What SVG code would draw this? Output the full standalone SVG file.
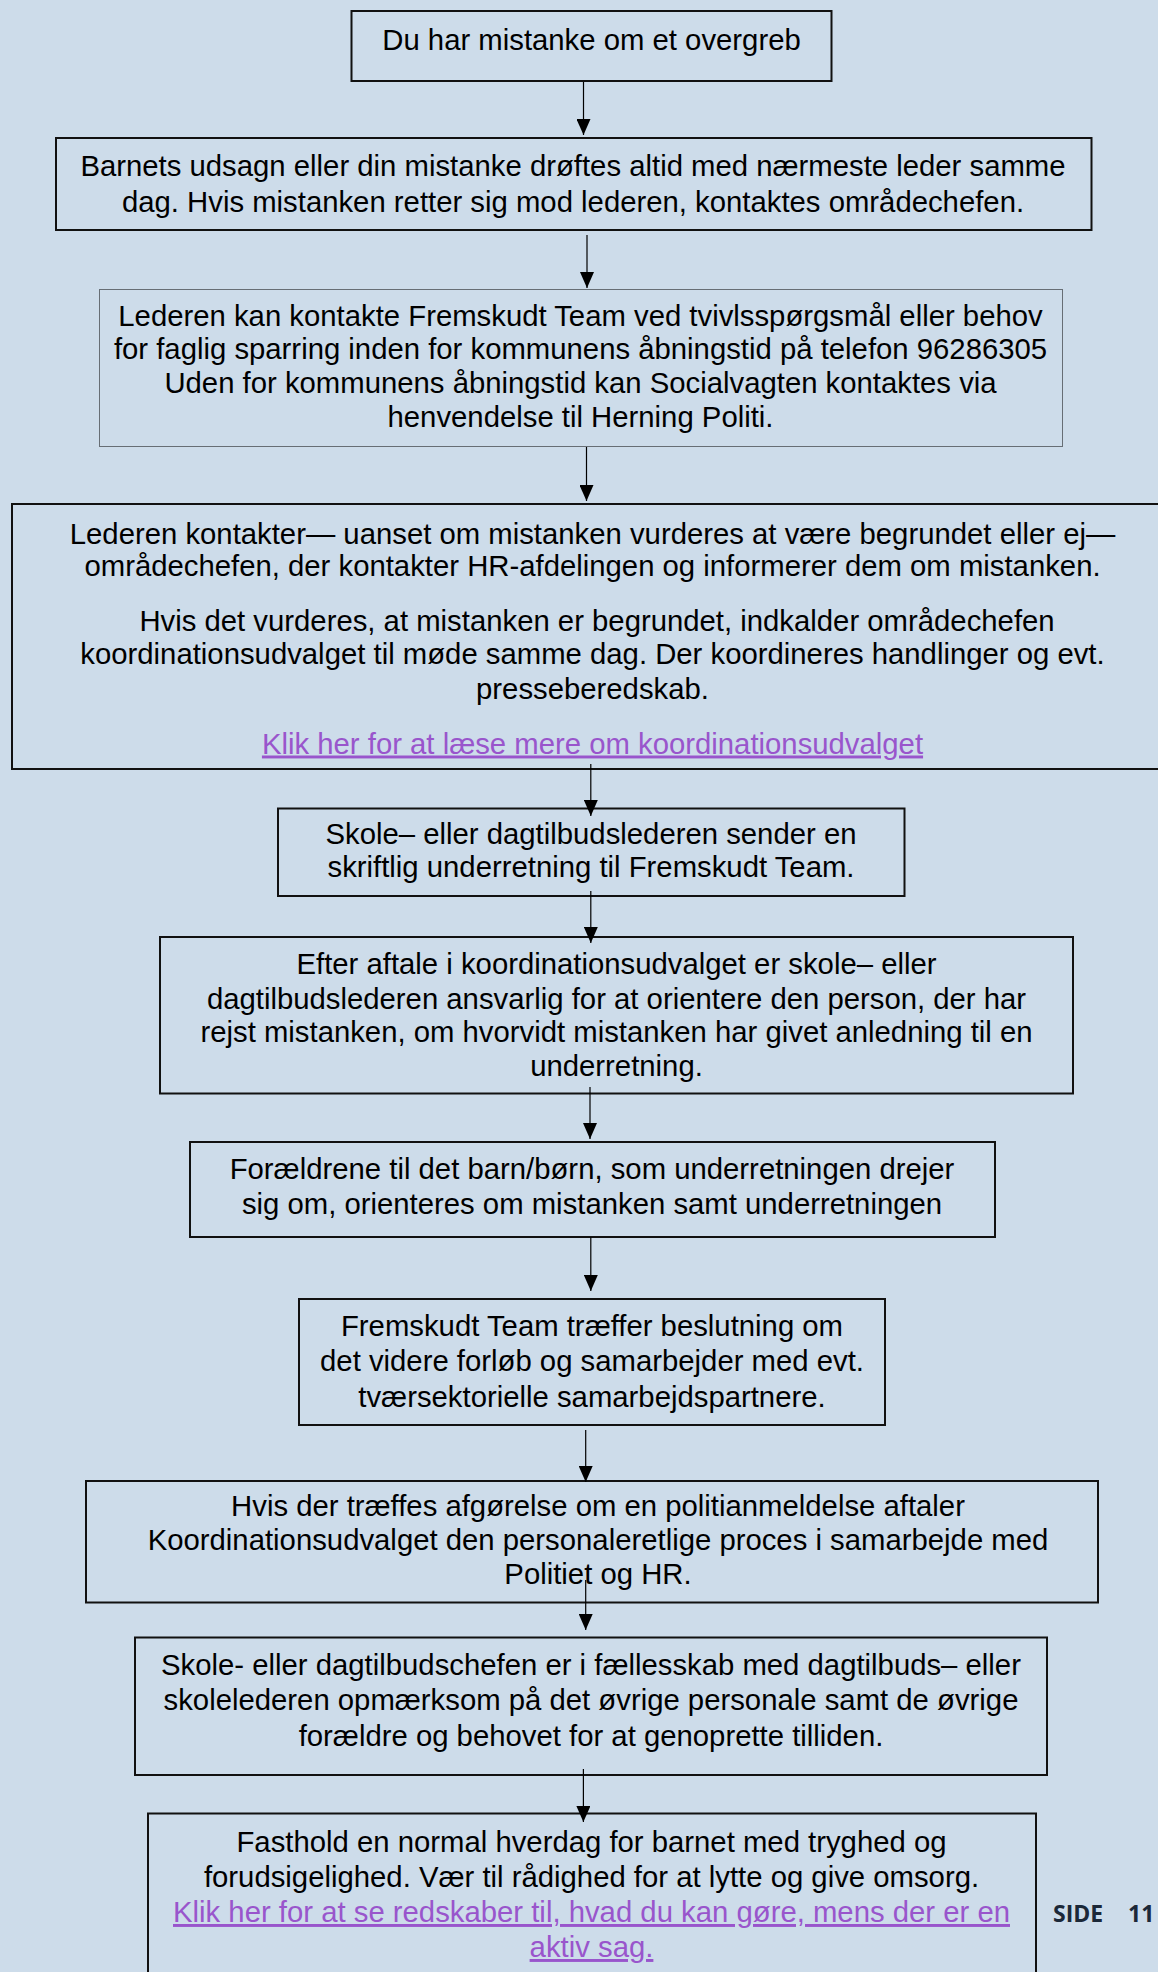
<svg xmlns="http://www.w3.org/2000/svg" width="1158" height="1972" viewBox="0 0 1158 1972">
<defs>
<style>
.bg{fill:#cddcea}
.box{fill:none;stroke:#111;stroke-width:2}
.dot{fill:none;stroke:#000;stroke-width:1;stroke-dasharray:1 1}
.t{font-family:"Liberation Sans",Arial,sans-serif;font-size:29.3px;fill:#000;text-anchor:middle}
.lk{fill:#9955cc;text-decoration:underline}
.c{stroke:#000;stroke-width:1.2;fill:none}
.side{font-family:"Open Sans","DejaVu Sans",sans-serif;font-weight:700;font-size:23px;fill:#1b2838}
</style>
<marker id="ah" markerWidth="16" markerHeight="14" refX="16" refY="7" orient="auto" markerUnits="userSpaceOnUse" viewBox="0 0 16 14">
<path d="M0,0 L16,7 L0,14 Z" fill="#000"/>
</marker>
</defs>
<rect class="bg" x="0" y="0" width="1158" height="1972"/>

<g id="n1">
<rect class="box" x="351.5" y="11" width="480" height="70"/>
<text class="t" x="591.5" y="50">Du har mistanke om et overgreb</text>
</g>
<g id="n2">
<rect class="box" x="56" y="138" width="1035.5" height="92"/>
<text class="t" x="573" y="175.5">Barnets udsagn eller din mistanke drøftes altid med nærmeste leder samme</text>
<text class="t" x="573" y="211.5">dag. Hvis mistanken retter sig mod lederen, kontaktes områdechefen.</text>
</g>
<g id="n3">
<rect class="dot" x="99.5" y="289.5" width="963" height="157"/>
<text class="t" x="580.5" y="325.5">Lederen kan kontakte Fremskudt Team ved tvivlsspørgsmål eller behov</text>
<text class="t" x="580.5" y="358.5">for faglig sparring inden for kommunens åbningstid på telefon 96286305</text>
<text class="t" x="580.5" y="392.5">Uden for kommunens åbningstid kan Socialvagten kontaktes via</text>
<text class="t" x="580.5" y="426.5">henvendelse til Herning Politi.</text>
</g>
<g id="n4">
<rect class="box" x="12" y="504" width="1163" height="265"/>
<text class="t" x="592.5" y="543.5">Lederen kontakter— uanset om mistanken vurderes at være begrundet eller ej—</text>
<text class="t" x="592.5" y="576">områdechefen, der kontakter HR-afdelingen og informerer dem om mistanken.</text>
<text class="t" x="597" y="630.5">Hvis det vurderes, at mistanken er begrundet, indkalder områdechefen</text>
<text class="t" x="592.5" y="664">koordinationsudvalget til møde samme dag. Der koordineres handlinger og evt.</text>
<text class="t" x="592.5" y="698.5">presseberedskab.</text>
<text class="t lk" x="592.5" y="753.5">Klik her for at læse mere om koordinationsudvalget</text>
</g>
<g id="n5">
<rect class="box" x="278" y="808.5" width="626.5" height="87.5"/>
<text class="t" x="591" y="843.5">Skole– eller dagtilbudslederen sender en</text>
<text class="t" x="591" y="877">skriftlig underretning til Fremskudt Team.</text>
</g>
<g id="n6">
<rect class="box" x="160" y="937" width="913" height="156.5"/>
<text class="t" x="616.5" y="973.5">Efter aftale i koordinationsudvalget er skole– eller</text>
<text class="t" x="616.5" y="1008.5">dagtilbudslederen ansvarlig for at orientere den person, der har</text>
<text class="t" x="616.5" y="1042">rejst mistanken, om hvorvidt mistanken har givet anledning til en</text>
<text class="t" x="616.5" y="1075.5">underretning.</text>
</g>
<g id="n7">
<rect class="box" x="190" y="1142" width="805" height="95"/>
<text class="t" x="592" y="1178.5">Forældrene til det barn/børn, som underretningen drejer</text>
<text class="t" x="592" y="1213.5">sig om, orienteres om mistanken samt underretningen</text>
</g>
<g id="n8">
<rect class="box" x="299" y="1299" width="586" height="126"/>
<text class="t" x="592" y="1336">Fremskudt Team træffer beslutning om</text>
<text class="t" x="592" y="1371">det videre forløb og samarbejder med evt.</text>
<text class="t" x="592" y="1407">tværsektorielle samarbejdspartnere.</text>
</g>
<g id="n9">
<rect class="box" x="86" y="1481" width="1012" height="121.5"/>
<text class="t" x="598" y="1515.5">Hvis der træffes afgørelse om en politianmeldelse aftaler</text>
<text class="t" x="598" y="1550">Koordinationsudvalget den personaleretlige proces i samarbejde med</text>
<text class="t" x="598" y="1584">Politiet og HR.</text>
</g>
<g id="n10">
<rect class="box" x="135" y="1637.5" width="912" height="137.5"/>
<text class="t" x="591" y="1675">Skole- eller dagtilbudschefen er i fællesskab med dagtilbuds– eller</text>
<text class="t" x="591" y="1710">skolelederen opmærksom på det øvrige personale samt de øvrige</text>
<text class="t" x="591" y="1746">forældre og behovet for at genoprette tilliden.</text>
</g>
<g id="n11">
<rect class="box" x="148" y="1813.5" width="888" height="180"/>
<text class="t" x="591.5" y="1852">Fasthold en normal hverdag for barnet med tryghed og</text>
<text class="t" x="591.5" y="1887">forudsigelighed. Vær til rådighed for at lytte og give omsorg.</text>
<text class="t lk" x="591.5" y="1922">Klik her for at se redskaber til, hvad du kan gøre, mens der er en</text>
<text class="t lk" x="591.5" y="1957">aktiv sag.</text>
</g>

<g id="connectors">
<line class="c" x1="583.5" y1="82" x2="583.5" y2="135" marker-end="url(#ah)"/>
<line class="c" x1="587" y1="235" x2="587" y2="288" marker-end="url(#ah)"/>
<line class="c" x1="586.5" y1="447" x2="586.5" y2="501" marker-end="url(#ah)"/>
<line class="c" x1="590.8" y1="764" x2="590.8" y2="816" marker-end="url(#ah)"/>
<line class="c" x1="590.8" y1="891" x2="590.8" y2="943" marker-end="url(#ah)"/>
<line class="c" x1="590" y1="1087" x2="590" y2="1139" marker-end="url(#ah)"/>
<line class="c" x1="590.8" y1="1237" x2="590.8" y2="1291" marker-end="url(#ah)"/>
<line class="c" x1="585.7" y1="1430" x2="585.7" y2="1482" marker-end="url(#ah)"/>
<line class="c" x1="585.7" y1="1580" x2="585.7" y2="1630" marker-end="url(#ah)"/>
<line class="c" x1="583.4" y1="1769" x2="583.4" y2="1822" marker-end="url(#ah)"/>
</g>

<text class="side" y="1922"><tspan x="1053">SIDE</tspan><tspan x="1128">11</tspan></text>
</svg>
